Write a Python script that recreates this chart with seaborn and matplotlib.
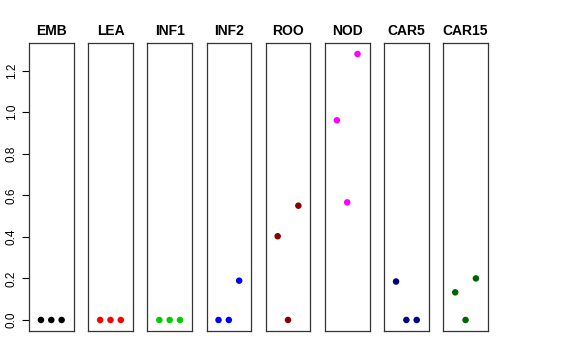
import pandas as pd
import matplotlib
matplotlib.use("Agg")
import matplotlib.pyplot as plt
import seaborn as sns

tissues = ["EMB", "LEA", "INF1", "INF2", "ROO", "NOD", "CAR5", "CAR15"]
colors = ["#000000", "#FF0000", "#00CD00", "#0000FF", "#8B0000", "#FF00FF", "#00008B", "#006400"]
replicate = [1, 2, 3]
emb = [0.0, 0.0, 0.0]
lea = [0.0, 0.0, 0.0]
inf1 = [0.0, 0.0, 0.0]
inf2 = [0.0, 0.0, 0.189]
roo = [0.403, 0.0, 0.550]
nod = [0.961, 0.566, 1.280]
car5 = [0.185, 0.0, 0.0]
car15 = [0.133, 0.0, 0.200]

values = [emb, lea, inf1, inf2, roo, nod, car5, car15]
rows = []
for t, v in zip(tissues, values):
    for r, y in zip(replicate, v):
        rows.append({"tissue": t, "rep": r, "expr": y})
df = pd.DataFrame(rows)

sns.set_style("white", {"text.color": "black", "axes.labelcolor": "black",
                        "xtick.color": "black", "ytick.color": "black"})
plt.rcParams['font.family'] = ['Liberation Sans', 'DejaVu Sans']

g = sns.FacetGrid(df, col="tissue", col_order=tissues, sharey=True, sharex=True,
                  height=3, aspect=0.3)
g.map_dataframe(sns.scatterplot, x="rep", y="expr", hue="tissue",
                hue_order=tissues, palette=colors, s=22, linewidth=0, legend=False)
g.figure.set_size_inches(5.76, 3.6)
g.figure.subplots_adjust(left=0.0503, right=0.847, bottom=0.0806, top=0.8806, wspace=0.326)
g.set(xlim=(-0.16, 4.16), ylim=(-0.053, 1.333), xlabel="", ylabel="", xticks=[])
g.set_titles("{col_name}", fontweight="bold", size=10, pad=6, color="black")

for i, ax in enumerate(g.axes.flat):
    for sp in ax.spines.values():
        sp.set_visible(True)
        sp.set_color("#333333")
        sp.set_linewidth(0.9)
    if i == 0:
        ax.set_yticks([0.0, 0.2, 0.4, 0.6, 0.8, 1.0, 1.2])
        ax.set_yticklabels(["0.0", "0.2", "0.4", "0.6", "0.8", "1.0", "1.2"],
                           rotation=90, va="center", fontsize=8.5, color="black")
        ax.tick_params(axis="y", left=True, length=5, width=0.8, pad=3, color="black")
    else:
        ax.tick_params(axis="y", left=False, labelleft=False)

g.figure.savefig("out.png", dpi=100)
